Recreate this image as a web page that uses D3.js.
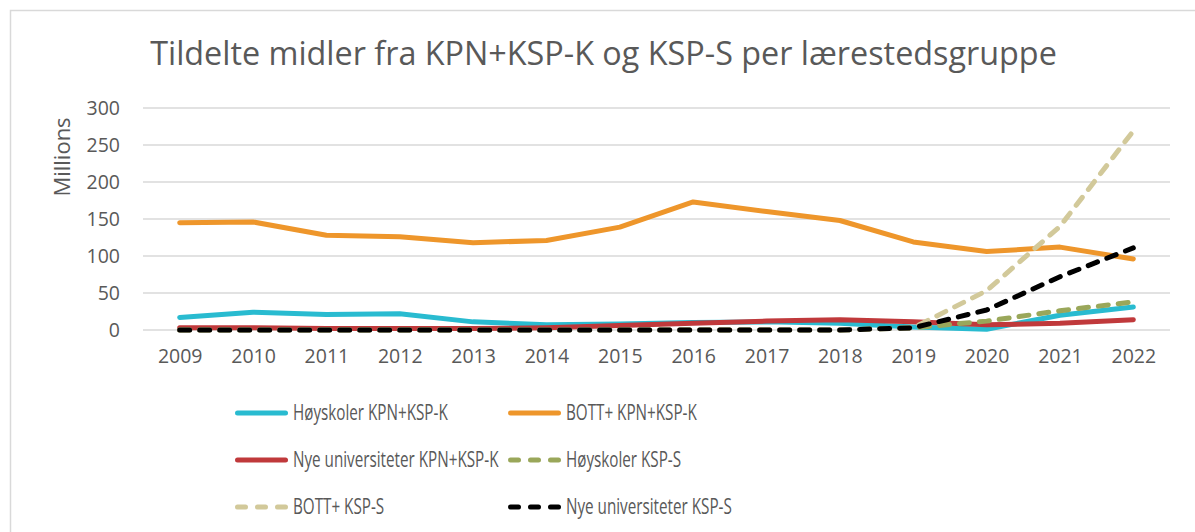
<!DOCTYPE html>
<html>
<head>
<meta charset="utf-8">
<script src="https://cdn.jsdelivr.net/npm/d3@7"></script>
<style>
  body { margin: 0; background: #fff; }
  svg text { font-family: "Open Sans", "Noto Sans", sans-serif; fill: #595959; }
</style>
</head>
<body>
<svg id="chart" width="1195" height="532"></svg>
<script>
const years = ["2009", "2010", "2011", "2012", "2013", "2014", "2015", "2016", "2017", "2018", "2019", "2020", "2021", "2022"];
const yTicks = [0, 50, 100, 150, 200, 250, 300];

const hoyskolerK = [17, 24, 21, 22, 11, 7, 8, 10, 11, 9, 4, 1, 20, 31];
const bottK = [145, 146, 128, 126, 118, 121, 139, 173, 160, 148, 119, 106, 112, 96];
const nyeK = [3, 3, 2, 2, 2, 3, 6, 9, 12, 14, 11, 7, 9, 14];
const hoyskolerS = [0, 0, 0, 0, 0, 0, 0, 0, 0, 0, 3, 12, 26, 38];
const bottS = [0, 0, 0, 0, 0, 0, 0, 0, 0, 0, 3, 53, 140, 269];
const nyeS = [0, 0, 0, 0, 0, 0, 0, 0, 0, 0, 3, 27, 72, 111];

const series = [
  { name: "Høyskoler KPN+KSP-K", values: hoyskolerK, color: "#29bbd0", dashed: false },
  { name: "BOTT+ KPN+KSP-K", values: bottK, color: "#ee962b", dashed: false },
  { name: "Nye universiteter KPN+KSP-K", values: nyeK, color: "#c0393b", dashed: false },
  { name: "Høyskoler KSP-S", values: hoyskolerS, color: "#9aa75a", dashed: true },
  { name: "BOTT+ KSP-S", values: bottS, color: "#d2c99a", dashed: true },
  { name: "Nye universiteter KSP-S", values: nyeS, color: "#000000", dashed: true },
];

const svg = d3.select("#chart");

svg.append("rect")
  .attr("x", 10.5).attr("y", 10.5)
  .attr("width", 1200).attr("height", 540)
  .attr("fill", "#fff")
  .attr("stroke", "#d9d9d9")
  .attr("stroke-width", 1.5);

const x = d3.scalePoint().domain(years).range([143, 1170]).padding(0.5);
const y = d3.scaleLinear().domain([0, 300]).range([330, 108]);

// title, sized to the width it has in the original
const title = svg.append("text")
  .attr("x", 603.5).attr("y", 65)
  .attr("text-anchor", "middle")
  .style("font-size", "32px")
  .text("Tildelte midler fra KPN+KSP-K og KSP-S per lærestedsgruppe");
const tw = title.node().getComputedTextLength();
title.style("font-size", (32 * 907 / tw).toFixed(2) + "px");

// grid
svg.append("g")
  .selectAll("line")
  .data(yTicks)
  .join("line")
  .attr("x1", 143).attr("x2", 1170)
  .attr("y1", (d) => y(d)).attr("y2", (d) => y(d))
  .attr("stroke", "#d9d9d9")
  .attr("stroke-width", 1.3);

// y axis
const yAxis = svg.append("g")
  .attr("transform", "translate(130,0)")
  .call(d3.axisLeft(y).tickValues(yTicks).tickSize(0).tickPadding(10));
yAxis.select(".domain").remove();
yAxis.selectAll("text").style("font-size", "19.5px").attr("fill", null);

// x axis
const xAxis = svg.append("g")
  .attr("transform", "translate(0,341)")
  .call(d3.axisBottom(x).tickSize(0).tickPadding(8));
xAxis.select(".domain").remove();
xAxis.selectAll("text").style("font-size", "19.5px").attr("fill", null);

svg.append("text")
  .attr("transform", "translate(62,157) rotate(-90)")
  .attr("text-anchor", "middle")
  .attr("dy", "0.35em")
  .style("font-size", "22px")
  .text("Millions");

// lines
const line = d3.line()
  .x((d, i) => x(years[i]))
  .y((d) => y(d));

svg.append("g")
  .selectAll("path")
  .data(series)
  .join("path")
  .attr("d", (d) => line(d.values))
  .attr("fill", "none")
  .attr("stroke", (d) => d.color)
  .attr("stroke-width", 5)
  .attr("stroke-linejoin", "round")
  .attr("stroke-linecap", "round")
  .attr("stroke-dasharray", (d) => (d.dashed ? "10,10" : null));

// legend
const item = svg.append("g")
  .selectAll("g")
  .data(series)
  .join("g")
  .attr("transform", (d, i) => `translate(${i % 2 === 0 ? 237.5 : 510.5},${413 + Math.floor(i / 2) * 47})`);

item.append("line")
  .attr("x1", 0).attr("x2", 48)
  .attr("stroke", (d) => d.color)
  .attr("stroke-width", 5)
  .attr("stroke-linecap", "round")
  .attr("stroke-dasharray", (d) => (d.dashed ? "8,12" : null));

const legendText = item.append("text")
  .attr("dy", "0.35em")
  .style("font-size", "21px")
  .text((d) => d.name);
// the original legend font is narrower than Open Sans; squeeze it to the same width
const k = 155 / legendText.node().getComputedTextLength();
legendText.attr("transform", `translate(55.5,0) scale(${k.toFixed(3)},1)`);
</script>
</body>
</html>
